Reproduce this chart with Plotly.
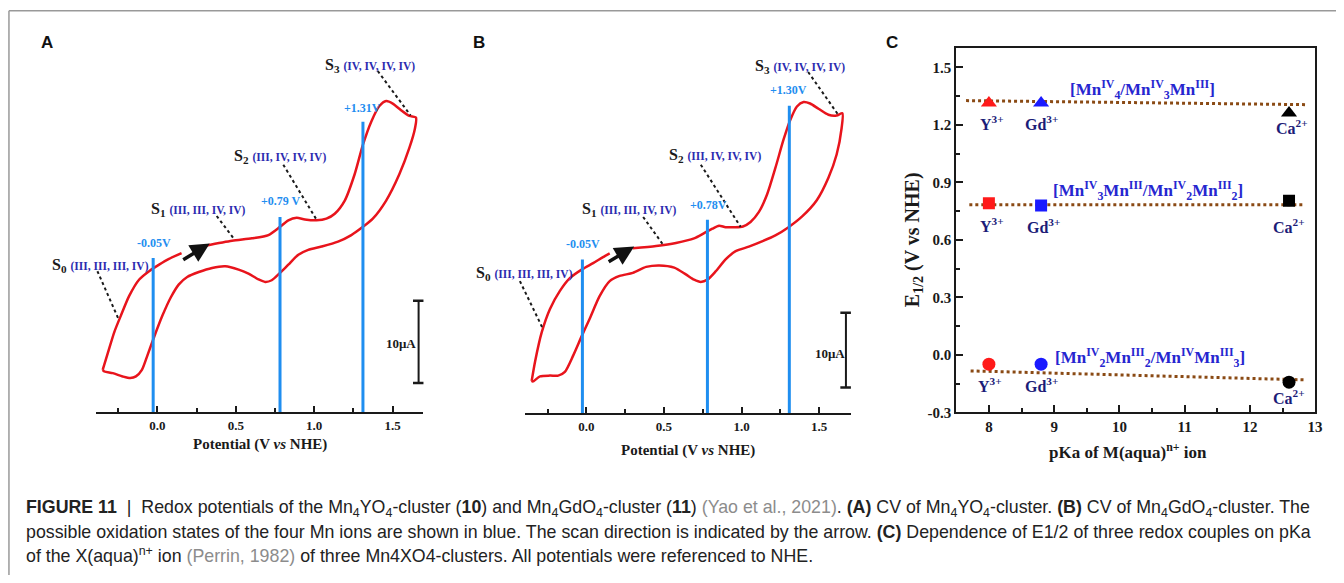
import plotly.graph_objects as go

# ---------------- data ----------------
# Panel A: CV of Mn4YO4-cluster (potential V vs NHE, current in uA, arbitrary offset)
A_E = [-0.349, -0.317, -0.275, -0.233, -0.180, -0.116, -0.053, 0.011, 0.074, 0.154, None,
       0.307, 0.476, 0.603, 0.708, 0.782, 0.835, 0.888, 0.941, 1.015, 1.078, 1.131, 1.195,
       1.258, 1.311, 1.364, 1.416, 1.459, 1.501, 1.554, 1.607, 1.649, 1.643, 1.607, 1.543,
       1.459, 1.374, 1.311, 1.237, 1.152, 1.047, 0.962, 0.899, 0.835, 0.782, 0.729, 0.687,
       0.645, 0.581, 0.518, 0.433, 0.349, 0.264, 0.190, 0.137, 0.085, 0.032, -0.021, -0.063,
       -0.099, -0.137, -0.173, -0.222, -0.285, -0.338, -0.349]
A_I = [-1.4, 0.6, 3.2, 5.2, 7.6, 9.6, 10.6, 11.4, 12.1, 12.8, None,
       13.7, 14.3, 14.6, 15.0, 16.0, 16.8, 17.1, 16.9, 16.8, 17.0, 17.6, 19.2,
       22.4, 26.0, 28.8, 30.7, 31.3, 31.0, 30.2, 29.5, 29.3, 28.0, 25.6, 22.4,
       19.2, 17.0, 16.0, 15.0, 14.2, 13.6, 13.2, 12.6, 11.4, 10.4, 9.5, 9.3,
       9.6, 10.3, 10.8, 11.2, 11.0, 10.5, 9.9, 9.0, 7.4, 5.2, 2.6, 0.4,
       -1.4, -2.2, -2.4, -2.2, -1.8, -1.6, -1.4]
A_half = [-0.027, 0.782, 1.311]          # drawn positions of the E1/2 markers
A_half_top = [12.2, 17.2, 28.8]
A_half_text = ["-0.05V", "+0.79 V", "+1.31V"]

# Panel B: CV of Mn4GdO4-cluster
B_E = [-0.353, -0.331, -0.288, -0.235, -0.171, -0.107, -0.026, 0.043, 0.107, 0.150, None,
       0.299, 0.449, 0.577, 0.694, 0.759, 0.812, 0.855, 0.897, 0.951, 1.009, 1.058, 1.111,
       1.165, 1.218, 1.271, 1.314, 1.357, 1.400, 1.442, 1.496, 1.560, 1.613, 1.650, 1.645,
       1.613, 1.560, 1.485, 1.389, 1.303, 1.218, 1.132, 1.047, 0.962, 0.897, 0.833, 0.780,
       0.737, 0.694, 0.641, 0.566, 0.470, 0.385, 0.299, 0.214, 0.150, 0.085, 0.021, -0.032,
       -0.085, -0.139, -0.182, -0.235, -0.299, -0.346, -0.353]
B_I = [-3.0, -0.4, 3.5, 6.6, 9.0, 10.7, 11.9, 12.7, 13.5, 14.0, None,
       14.7, 15.0, 15.4, 16.0, 16.7, 17.3, 17.7, 17.5, 17.5, 17.6, 18.2, 19.5,
       21.9, 25.4, 29.2, 31.8, 33.6, 34.2, 34.0, 33.3, 32.5, 32.4, 32.7, 30.7,
       27.2, 24.1, 21.1, 18.9, 17.5, 16.4, 15.6, 14.9, 14.3, 13.2, 11.6, 10.5,
       10.2, 10.5, 11.2, 12.1, 12.4, 12.2, 11.4, 11.0, 10.3, 8.3, 5.3, 2.9,
       0.4, -1.8, -2.3, -2.3, -2.4, -3.1, -3.0]
B_half = [-0.026, 0.780, 1.308]
B_half_top = [13.2, 18.5, 33.7]
B_half_text = ["-0.05V", "+0.78V", "+1.30V"]

scale_uA = 10

# Panel C: E1/2 vs pKa
ions = ["Y<sup>3+</sup>", "Gd<sup>3+</sup>", "Ca<sup>2+</sup>"]
pKa = [8.0, 8.8, 12.6]
ion_colors = ["#ff1a1a", "#1a1aff", "#000000"]
E_top = [1.315, 1.315, 1.263]
E_mid = [0.791, 0.780, 0.804]
E_low = [-0.049, -0.049, -0.143]
fit_top_x = [7.65, 12.85]; fit_top_y = [1.327, 1.306]
fit_mid_x = [7.70, 12.85]; fit_mid_y = [0.783, 0.783]
fit_low_x = [7.72, 12.85]; fit_low_y = [-0.084, -0.131]
couples = ["[Mn<sup>IV</sup><sub>4</sub>/Mn<sup>IV</sup><sub>3</sub>Mn<sup>III</sup>]",
           "[Mn<sup>IV</sup><sub>3</sub>Mn<sup>III</sup>/Mn<sup>IV</sup><sub>2</sub>Mn<sup>III</sup><sub>2</sub>]",
           "[Mn<sup>IV</sup><sub>2</sub>Mn<sup>III</sup><sub>2</sub>/Mn<sup>IV</sup>Mn<sup>III</sup><sub>3</sub>]"]

# ---------------- helpers ----------------
W, H = 1344, 583
def px(x): return x / W
def py(y): return 1 - y / H

SERIF = "Liberation Serif"
SANS = "Liberation Sans"
RED = "#e8141c"
BLUEV = "#1f8ef0"
NAVY = "#2b2bb0"
INK = "#1a1a1a"

fig = go.Figure()

# ---- Panel A / B curves ----
panels = [
    dict(E=A_E, I=A_I, half=A_half, top=A_half_top, xa="x", ya="y", floor=-6.56,
         bar_x=1.666, bar_lo=-3.0),
    dict(E=B_E, I=B_I, half=B_half, top=B_half_top, xa="x2", ya="y2", floor=-7.32,
         bar_x=1.673, bar_lo=-3.9),
]
for p in panels:
    fig.add_trace(go.Scatter(x=p["E"], y=p["I"], mode="lines", xaxis=p["xa"], yaxis=p["ya"],
                             line=dict(color=RED, width=2.5, shape="spline", smoothing=0.7),
                             connectgaps=False, showlegend=False, hoverinfo="skip"))
    for e, t in zip(p["half"], p["top"]):
        fig.add_trace(go.Scatter(x=[e, e], y=[p["floor"], t], mode="lines", xaxis=p["xa"], yaxis=p["ya"],
                                 line=dict(color=BLUEV, width=3), showlegend=False, hoverinfo="skip"))
    fig.add_trace(go.Scatter(x=[p["bar_x"], p["bar_x"]], y=[p["bar_lo"], p["bar_lo"] + scale_uA],
                             mode="lines+markers", xaxis=p["xa"], yaxis=p["ya"],
                             line=dict(color=INK, width=2),
                             marker=dict(symbol="line-ew", size=8, line=dict(color=INK, width=2.5)),
                             showlegend=False, hoverinfo="skip"))

# ---- Panel C ----
for fx, fy in [(fit_top_x, fit_top_y), (fit_mid_x, fit_mid_y), (fit_low_x, fit_low_y)]:
    fig.add_trace(go.Scatter(x=fx, y=fy, mode="lines", xaxis="x3", yaxis="y3",
                             line=dict(color="#8a4a14", width=3, dash="dot"),
                             showlegend=False, hoverinfo="skip"))
for vals, sym, sz in [(E_top, "triangle-up", 14), (E_mid, "square", 12), (E_low, "circle", 13)]:
    fig.add_trace(go.Scatter(x=pKa, y=vals, mode="markers", xaxis="x3", yaxis="y3",
                             marker=dict(symbol=sym, size=sz, color=ion_colors),
                             showlegend=False, hoverinfo="skip"))

ann = []
def note(x, y, text, font, xref="paper", yref="paper", xanchor="center", yanchor="middle", **kw):
    d = dict(x=x, y=y, xref=xref, yref=yref, text=text, showarrow=False, font=font,
             xanchor=xanchor, yanchor=yanchor)
    d.update(kw)
    ann.append(d)

# ion labels in C
ion_lab_pos = [
    [(8.05, 1.21), (8.81, 1.21), (12.64, 1.19)],
    [(8.05, 0.68), (8.84, 0.67), (12.60, 0.67)],
    [(8.02, -0.16), (8.81, -0.16), (12.60, -0.22)],
]
for row in ion_lab_pos:
    for name, (x, y) in zip(ions, row):
        note(x, y, name, dict(family=SERIF, size=16, color="#1c1c78", weight="bold"), "x3", "y3")
for txt, (x, y) in zip(couples, [(10.35, 1.385), (10.44, 0.86), (10.47, -0.015)]):
    note(x, y, txt, dict(family=SERIF, size=17, color="#2626d0", weight="bold"), "x3", "y3")

# blue potential labels
for (lx, ly), t, xa, ya in [((-0.02, 14.0), A_half_text[0], "x", "y"),
                            ((0.79, 19.2), A_half_text[1], "x", "y"),
                            ((1.31, 30.5), A_half_text[2], "x", "y"),
                            ((-0.02, 15.2), B_half_text[0], "x2", "y2"),
                            ((0.785, 20.5), B_half_text[1], "x2", "y2"),
                            ((1.30, 35.8), B_half_text[2], "x2", "y2")]:
    note(lx, ly, t, dict(family=SERIF, size=12, color=BLUEV, weight="bold"), xa, ya)

# state labels (pixel-positioned, left aligned)
states = [("0", "(III, III, III, IV)"), ("1", "(III, III, IV, IV)"),
          ("2", "(III, IV, IV, IV)"), ("3", "(IV, IV, IV, IV)")]
state_pos_A = [(50, 269), (150, 212), (233, 159), (325, 66)]
state_pos_B = [(477, 277), (583, 212), (671, 158), (758, 67)]
for pos in (state_pos_A, state_pos_B):
    for (sub, ox), (x, y) in zip(states, pos):
        note(px(x), py(y), f"S<sub>{sub}</sub> <span style='color:{NAVY};font-size:11.5px'>{ox}</span>",
             dict(family=SERIF, size=16, color=INK, weight="bold"), xanchor="left")

# pointer dotted lines
shapes = []
pointers = [((98, 275), (119, 323)), ((218, 219), (236, 243)), ((285, 167), (318, 222)), ((380, 72), (413, 117)),
            ((523, 285), (546, 333)), ((647, 220), (667, 248)), ((705, 167), (745, 230)), ((813, 73), (843, 116))]
for (x0, y0), (x1, y1) in pointers:
    shapes.append(dict(type="line", xref="paper", yref="paper", x0=px(x0), y0=py(y0), x1=px(x1), y1=py(y1),
                       line=dict(color=INK, width=2, dash="dot")))

# frame
shapes.append(dict(type="line", xref="paper", yref="paper", x0=px(9), y0=py(11), x1=px(9), y1=0,
                   line=dict(color="#999999", width=1.5)))
shapes.append(dict(type="line", xref="paper", yref="paper", x0=px(9), y0=py(11), x1=1, y1=py(11),
                   line=dict(color="#999999", width=1.5)))

# scan arrows
for (hx, hy), (tx, ty) in [((211, 247), (183, 264)), ((638, 250), (611, 266))]:
    ann.append(dict(x=px(hx), y=py(hy), xref="paper", yref="paper", ax=tx - hx, ay=ty - hy,
                    axref="pixel", ayref="pixel", text="", showarrow=True, arrowhead=2,
                    arrowsize=1.1, arrowwidth=3.5, arrowcolor="#111111"))

# scale labels
for x, y in [(403, 348), (835, 358)]:
    note(px(x), py(y), "10\u03bcA", dict(family=SERIF, size=13, color=INK, weight="bold"))

# axis titles
note(px(262), py(451), "Potential (V <i>vs</i> NHE)", dict(family=SERIF, size=15, color=INK, weight="bold"))
note(px(692), py(457), "Potential (V <i>vs</i> NHE)", dict(family=SERIF, size=15, color=INK, weight="bold"))
note(px(1135), py(457), "pKa of M(aqua)<sup>n+</sup> ion", dict(family=SERIF, size=17, color=INK, weight="bold"))
note(px(919), py(243), "E<sub>1/2</sub> (V vs NHE)", dict(family=SERIF, size=20, color=INK, weight="bold"),
     textangle=-90)

# panel letters
for t, (x, y) in zip(["A", "B", "C"], [(47, 43), (482, 43), (897, 43)]):
    note(px(x), py(y), f"<b>{t}</b>", dict(family=SANS, size=17, color="#111111"))

# caption
GRAY = "#8c8c8c"
cap = [
    "<b>FIGURE 11</b>  |  Redox potentials of the Mn<sub>4</sub>YO<sub>4</sub>-cluster (<b>10</b>) and "
    "Mn<sub>4</sub>GdO<sub>4</sub>-cluster (<b>11</b>) "
    f"<span style='color:{GRAY}'>(Yao et al., 2021)</span>. <b>(A)</b> CV of Mn<sub>4</sub>YO<sub>4</sub>-cluster. "
    "<b>(B)</b> CV of Mn<sub>4</sub>GdO<sub>4</sub>-cluster. The",
    "possible oxidation states of the four Mn ions are shown in blue. The scan direction is indicated by the arrow. "
    "<b>(C)</b> Dependence of E1/2 of three redox couples on pKa",
    f"of the X(aqua)<sup>n+</sup> ion <span style='color:{GRAY}'>(Perrin, 1982)</span> of three Mn4XO4-clusters. "
    "All potentials were referenced to NHE.",
]
for line, y in zip(cap, [516, 539.5, 563]):
    note(px(24), py(y), line, dict(family=SANS, size=17.8, color="#222222"), xanchor="left")

cv_x_common = dict(showline=True, linecolor=INK, linewidth=2, ticks="inside", ticklen=6, tickwidth=2,
                   tickcolor=INK, tickvals=[0, 0.5, 1.0, 1.5], ticktext=["0.0", "0.5", "1.0", "1.5"],
                   minor=dict(tickvals=[-0.25, 0.25, 0.75, 1.25], ticks="inside", ticklen=4, tickwidth=1.5,
                              tickcolor=INK),
                   tickfont=dict(family=SERIF, size=13, color=INK, weight="bold"),
                   showgrid=False, zeroline=False, fixedrange=True)

fig.update_layout(
    width=W, height=H, autosize=False, margin=dict(l=0, r=0, t=0, b=0),
    paper_bgcolor="white", plot_bgcolor="rgba(0,0,0,0)", showlegend=False,
    xaxis=dict(domain=[px(97), px(426)], range=[-0.389, 1.697], anchor="y", **cv_x_common),
    yaxis=dict(domain=[py(418), py(30)], range=[-6.56, 40], visible=False, anchor="x"),
    xaxis2=dict(domain=[px(528), px(856)], range=[-0.397, 1.705], anchor="y2", **cv_x_common),
    yaxis2=dict(domain=[py(419), py(30)], range=[-7.32, 43.86], visible=False, anchor="x2"),
    xaxis3=dict(domain=[px(962), px(1323)], range=[7.5, 13], anchor="y3", showline=True, mirror=True,
                linecolor=INK, linewidth=2, ticks="inside", ticklen=7, tickwidth=2, tickcolor=INK,
                tickvals=[8, 9, 10, 11, 12, 13],
                minor=dict(tickvals=[8.5, 9.5, 10.5, 11.5, 12.5], ticks="inside", ticklen=4, tickwidth=1.5,
                           tickcolor=INK),
                tickfont=dict(family=SERIF, size=15, color=INK, weight="bold"),
                showgrid=False, zeroline=False),
    yaxis3=dict(domain=[py(418), py(49)], range=[-0.3, 1.6], anchor="x3", showline=True, mirror=True,
                linecolor=INK, linewidth=2, ticks="inside", ticklen=7, tickwidth=2, tickcolor=INK,
                tickvals=[-0.3, 0.0, 0.3, 0.6, 0.9, 1.2, 1.5],
                ticktext=["-0.3", "0.0", "0.3", "0.6", "0.9", "1.2", "1.5"],
                minor=dict(tickvals=[-0.15, 0.15, 0.45, 0.75, 1.05, 1.35], ticks="inside", ticklen=4,
                           tickwidth=1.5, tickcolor=INK),
                tickfont=dict(family=SERIF, size=15, color=INK, weight="bold"),
                showgrid=False, zeroline=False),
    annotations=ann, shapes=shapes,
)

fig.write_html("out.html", config={"displayModeBar": False},
               post_script="document.body.style.margin='0';document.body.style.overflow='hidden';")
